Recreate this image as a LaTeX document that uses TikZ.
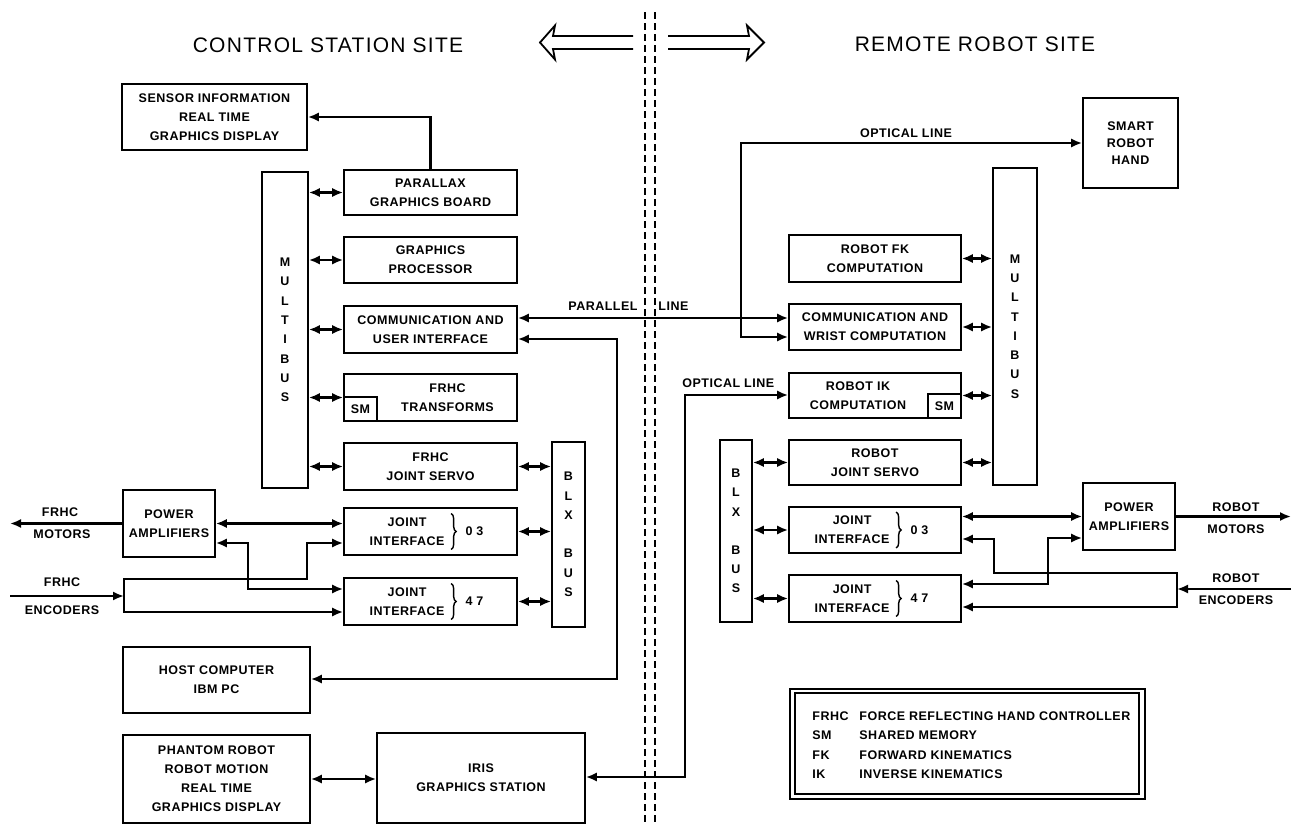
\documentclass[tikz,border=0pt]{standalone}
\usepackage{fontspec}
\setmainfont{Liberation Sans}
\newfontfamily\lblfam{Liberation Sans}[LetterSpace=4]
\newfontfamily\ttlfam{Liberation Sans}[LetterSpace=6]
\usetikzlibrary{arrows.meta,decorations.pathreplacing}
\tikzset{
  lblfont/.style={font={\lblfam\bfseries\fontsize{6.25pt}{9.5pt}\selectfont}},
  busfont/.style={font={\lblfam\bfseries\fontsize{6.25pt}{9.65pt}\selectfont}},
  box/.style={draw, line width=0.85pt, inner sep=0pt, align=center, lblfont},
  lab/.style={inner sep=0pt, align=center, lblfont},
  conn/.style={line width=1.35pt},
  arr/.style={conn, -{Latex[length=5.5pt,width=4.6pt]}},
  dbl/.style={conn, {Latex[length=5.5pt,width=4.6pt]}-{Latex[length=5.5pt,width=4.6pt]}},
  sitelbl/.style={inner sep=0pt, font={\ttlfam\fontsize{10.5pt}{12pt}\selectfont}},
  bigarrow/.style={line width=0.9pt, line join=miter},
  divider/.style={line width=0.7pt, dash pattern=on 3.5pt off 2pt},
  brc/.style={line width=0.7pt, decorate, decoration={brace, amplitude=2.5pt}},
  smbox/.style={draw, line width=0.85pt, inner sep=0pt, minimum width=16.5pt, minimum height=12pt, lblfont},
}
\begin{document}
\begin{tikzpicture}[x=0.5pt, y=-0.5pt]
\useasboundingbox (0,0) rectangle (1297,825);
\fill[white] (0,0) rectangle (1297,825);

% ---- site titles and divider ----
\node[sitelbl] (tL) at (328,45) {CONTROL STATION SITE};
\node[sitelbl] (tR) at (975,44) {REMOTE ROBOT SITE};
\draw[bigarrow] (633,36) -- (553,36) -- (555,25.5) -- (540,42.5) -- (555,59.5) -- (553,49) -- (633,49);
\draw[bigarrow] (668,36) -- (749,36) -- (747,25.5) -- (764,42.5) -- (747,59.5) -- (749,49) -- (668,49);
\draw[divider] (645,12) -- (645,825);
\draw[divider] (655,12) -- (655,825);

% ---- control station boxes ----
\node[box, minimum width=92.5pt, minimum height=33pt] (sensor) at (214.5,117) {SENSOR INFORMATION\\REAL TIME\\GRAPHICS DISPLAY};
\node[box, busfont, minimum width=23pt, minimum height=158pt] (mbL) at (285,330) {M\\U\\L\\T\\I\\B\\U\\S};
\node[box, minimum width=86.5pt, minimum height=22.5pt] (parallax) at (430.5,192.5) {PARALLAX\\GRAPHICS BOARD};
\node[box, minimum width=86.5pt, minimum height=23pt] (gproc) at (430.5,260) {GRAPHICS\\PROCESSOR};
\node[box, minimum width=86.5pt, minimum height=23.5pt] (comm) at (430.5,329.5) {COMMUNICATION AND\\USER INTERFACE};
\node[box, minimum width=86.5pt, minimum height=23.5pt] (trans) at (430.5,397.5) {};
\node[lab] (transT) at ([xshift=8.5pt]trans.center) {FRHC\\TRANSFORMS};
\node[smbox, anchor=south west] (smL) at (trans.south west) {SM};
\node[box, minimum width=86.5pt, minimum height=23.5pt] (servoL) at (430.5,466.5) {FRHC\\JOINT SERVO};
\node[box, minimum width=86.5pt, minimum height=23.5pt] (ji03L) at (430.5,531.5) {};
\node[box, minimum width=86.5pt, minimum height=23.5pt] (ji47L) at (430.5,601.5) {};
\node[box, busfont, minimum width=16.5pt, minimum height=92.5pt] (blxL) at (568.5,534.5) {B\\L\\X\\[9.5pt]B\\U\\S};
\node[box, minimum width=46pt, minimum height=33.5pt] (powL) at (169,523.5) {POWER\\AMPLIFIERS};
\node[box, minimum width=93.5pt, minimum height=33pt] (host) at (216.5,680) {HOST COMPUTER\\IBM PC};
\node[box, minimum width=93.5pt, minimum height=44pt] (phantom) at (216.5,779) {PHANTOM ROBOT\\ROBOT MOTION\\REAL TIME\\GRAPHICS DISPLAY};
\node[box, minimum width=104pt, minimum height=45pt] (iris) at (481,778) {IRIS\\GRAPHICS STATION};

\node[lab] (ji03Lt) at ([xshift=32pt]ji03L.west) {JOINT\\INTERFACE};
\draw[brc] ([xshift=54pt,yshift=9pt]ji03L.west) -- ([xshift=54pt,yshift=-9pt]ji03L.west);
\node[lab, anchor=west] (ji03Ln) at ([xshift=61pt]ji03L.west) {0 3};
\node[lab] (ji47Lt) at ([xshift=32pt]ji47L.west) {JOINT\\INTERFACE};
\draw[brc] ([xshift=54pt,yshift=9pt]ji47L.west) -- ([xshift=54pt,yshift=-9pt]ji47L.west);
\node[lab, anchor=west] (ji47Ln) at ([xshift=61pt]ji47L.west) {4 7};

% ---- remote robot boxes ----
\node[box, minimum width=47.5pt, minimum height=45pt, font={\lblfam\bfseries\fontsize{6.25pt}{8.5pt}\selectfont}] (smart) at (1130.5,143) {SMART\\ROBOT\\HAND};
\node[box, busfont, minimum width=22pt, minimum height=158.5pt] (mbR) at (1015,326.5) {M\\U\\L\\T\\I\\B\\U\\S};
\node[box, minimum width=86pt, minimum height=23.5pt] (fk) at (875,258.5) {ROBOT FK\\COMPUTATION};
\node[box, minimum width=86pt, minimum height=23pt] (commw) at (875,327) {COMMUNICATION AND\\WRIST COMPUTATION};
\node[box, minimum width=86pt, minimum height=22.5pt] (ik) at (875,395.5) {};
\node[lab] (ikT) at ([xshift=-8.5pt]ik.center) {ROBOT IK\\COMPUTATION};
\node[smbox, anchor=south east] (smR) at (ik.south east) {SM};
\node[box, minimum width=86pt, minimum height=22.5pt] (servoR) at (875,462.5) {ROBOT\\JOINT SERVO};
\node[box, minimum width=86pt, minimum height=23pt] (ji03R) at (875,530) {};
\node[box, minimum width=86pt, minimum height=23.5pt] (ji47R) at (875,598.5) {};
\node[box, busfont, minimum width=16pt, minimum height=91pt] (blxR) at (736,531) {B\\L\\X\\[9.5pt]B\\U\\S};
\node[box, minimum width=46pt, minimum height=33.5pt] (powR) at (1129,516.5) {POWER\\AMPLIFIERS};

\node[lab] (ji03Rt) at ([xshift=32pt]ji03R.west) {JOINT\\INTERFACE};
\draw[brc] ([xshift=54pt,yshift=9pt]ji03R.west) -- ([xshift=54pt,yshift=-9pt]ji03R.west);
\node[lab, anchor=west] (ji03Rn) at ([xshift=61pt]ji03R.west) {0 3};
\node[lab] (ji47Rt) at ([xshift=32pt]ji47R.west) {JOINT\\INTERFACE};
\draw[brc] ([xshift=54pt,yshift=9pt]ji47R.west) -- ([xshift=54pt,yshift=-9pt]ji47R.west);
\node[lab, anchor=west] (ji47Rn) at ([xshift=61pt]ji47R.west) {4 7};

% ---- outer labels ----
\node[lab] (motL1) at (60,512) {FRHC};
\node[lab] (motL2) at (62,534) {MOTORS};
\node[lab] (encL1) at (62,582) {FRHC};
\node[lab] (encL2) at (62,610) {ENCODERS};
\node[lab] (motR1) at (1236,507) {ROBOT};
\node[lab] (motR2) at (1236,529) {MOTORS};
\node[lab] (encR1) at (1236,578) {ROBOT};
\node[lab] (encR2) at (1236,600) {ENCODERS};
\node[lab] (opt1) at (906,133) {OPTICAL LINE};
\node[lab, anchor=west] (opt2) at (682,383) {OPTICAL LINE};
\node[lab, anchor=east] (par1) at (638,306) {PARALLEL};
\node[lab, anchor=west] (par2) at (658,306) {LINE};

\coordinate (motLend) at (10,523.5);
\coordinate (encLsrc) at (10,596);
\coordinate (encLj) at (124,596);
\coordinate (motRend) at (1291,516.5);
\coordinate (encRsrc) at (1291,589);
\coordinate (encRj) at (1177,589);

% ---- connectors, control station ----
\draw[arr] (parallax.north) |- (sensor.east);
\draw[dbl] (mbL.east |- parallax.west) -- (parallax.west);
\draw[dbl] (mbL.east |- gproc.west) -- (gproc.west);
\draw[dbl] (mbL.east |- comm.west) -- (comm.west);
\draw[dbl] (mbL.east |- trans.west) -- (trans.west);
\draw[dbl] (mbL.east |- servoL.west) -- (servoL.west);
\draw[dbl] (servoL.east) -- (blxL.west |- servoL.east);
\draw[dbl] (ji03L.east) -- (blxL.west |- ji03L.east);
\draw[dbl] (ji47L.east) -- (blxL.west |- ji47L.east);
\draw[dbl] (comm.east |- 0,318) -- (commw.west |- 0,318);
\draw[dbl] (comm.east |- 0,339) -| (617,679) -- (host.east |- 0,679);
\draw[arr] (powL.west) -- (motLend);
\draw[dbl] (powL.east) -- (ji03L.west |- powL.east);
\draw[dbl] (powL.east |- 0,543) -| (248,589) -- (ji47L.west |- 0,589);
\draw[arr] (encLsrc) -- (encLj);
\draw[arr] (encLj) -- (124,579) -| (307,543) -- (ji03L.west |- 0,543);
\draw[arr] (encLj) |- (ji47L.west |- 0,612);
\draw[dbl] (phantom.east) -- (iris.west |- phantom.east);
\draw[dbl] (iris.east |- 0,777) -| (685,395) -- (ik.west |- 0,395);

% ---- connectors, remote robot ----
\draw[dbl] (smart.west) -| (741,337) -- (commw.west |- 0,337);
\draw[dbl] (fk.east) -- (mbR.west |- fk.east);
\draw[dbl] (commw.east) -- (mbR.west |- commw.east);
\draw[dbl] (ik.east) -- (mbR.west |- ik.east);
\draw[dbl] (servoR.east) -- (mbR.west |- servoR.east);
\draw[dbl] (blxR.east |- servoR.west) -- (servoR.west);
\draw[dbl] (blxR.east |- ji03R.west) -- (ji03R.west);
\draw[dbl] (blxR.east |- ji47R.west) -- (ji47R.west);
\draw[dbl] (ji03R.east |- powR.west) -- (powR.west);
\draw[arr] (powR.east) -- (motRend);
\draw[dbl] (powR.west |- 0,538) -| (1048,584) -- (ji47R.east |- 0,584);
\draw[arr] (encRsrc) -- (encRj);
\draw[arr] (encRj) -- (1177,573) -| (994,539) -- (ji03R.east |- 0,539);
\draw[arr] (encRj) |- (ji47R.east |- 0,607);

% ---- legend ----
\node[draw, line width=0.8pt, inner sep=0pt, minimum width=177.5pt, minimum height=55pt] (legO) at (967.5,744) {};
\node[draw, line width=0.7pt, inner sep=0pt, minimum width=172pt, minimum height=50.5pt] (legI) at (967,743.5) {};
\node[lab, anchor=west] (lgA1) at (812,716) {FRHC};
\node[lab, anchor=west] (lgB1) at (859,716) {FORCE REFLECTING HAND CONTROLLER};
\node[lab, anchor=west] (lgA2) at (812,735.5) {SM};
\node[lab, anchor=west] (lgB2) at (859,735.5) {SHARED MEMORY};
\node[lab, anchor=west] (lgA3) at (812,755) {FK};
\node[lab, anchor=west] (lgB3) at (859,755) {FORWARD KINEMATICS};
\node[lab, anchor=west] (lgA4) at (812,774.5) {IK};
\node[lab, anchor=west] (lgB4) at (859,774.5) {INVERSE KINEMATICS};
\end{tikzpicture}
\end{document}
